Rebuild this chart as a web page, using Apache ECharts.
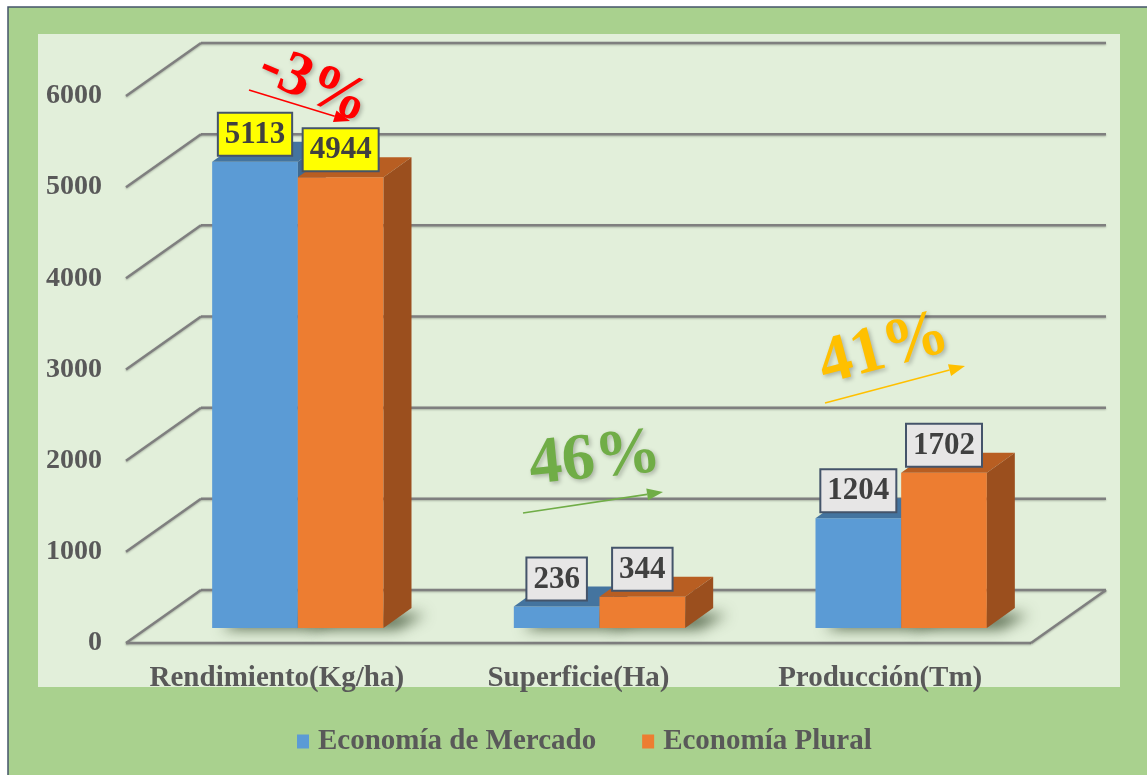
<!DOCTYPE html>
<html>
<head>
<meta charset="utf-8">
<script src="https://cdn.jsdelivr.net/npm/echarts@6/dist/echarts.min.js"></script>
<style>
  html, body { margin: 0; padding: 0; background: #fff; }
  #chart { width: 1147px; height: 775px; }
</style>
</head>
<body>
<div id="chart"></div>
<script>
var categories = ['Rendimiento(Kg/ha)', 'Superficie(Ha)', 'Producción(Tm)'];
var mercado = [5113, 236, 1204];
var plural = [4944, 344, 1702];
var seriesNames = ['Economía de Mercado', 'Economía Plural'];
var yTicks = [0, 1000, 2000, 3000, 4000, 5000, 6000];
var changeLabels = ['-3%', '46%', '41%'];

// depth offsets of the fake 3D
var FRONT = [-21, 15];   // floor front edge vs bar front plane
var BACK = [54, -38];    // back wall vs bar front plane
var DX = 28, DY = -20;   // bar depth
var FONT = '"Liberation Serif", "Times New Roman", serif';
var TXT = '#595959';
var FAR = 3000;          // shadow shape drawn off-screen, only its blur is shifted back

var chart = echarts.init(document.getElementById('chart'));

function wallItem(params, api) {
  var v = api.value(0);
  var cs = params.coordSys;
  var y = api.coord([0, v])[1];
  var lineStyle = { stroke: '#7f7f7f', lineWidth: 2.5, shadowBlur: 2, shadowColor: 'rgba(0,0,0,0.25)', shadowOffsetY: 1 };
  var kids = [
    { type: 'line', shape: { x1: cs.x + BACK[0], y1: y + BACK[1], x2: cs.x + cs.width + BACK[0], y2: y + BACK[1] }, style: lineStyle },
    { type: 'line', shape: { x1: cs.x + FRONT[0], y1: y + FRONT[1], x2: cs.x + BACK[0], y2: y + BACK[1] }, style: lineStyle },
    { type: 'text', style: { text: String(v), x: cs.x + FRONT[0] - 24, y: y + FRONT[1], align: 'right', verticalAlign: 'middle', font: 'bold 28px ' + FONT, fill: TXT } }
  ];
  if (v === 0) {
    kids.push({ type: 'line', shape: { x1: cs.x + FRONT[0], y1: y + FRONT[1], x2: cs.x + cs.width + FRONT[0], y2: y + FRONT[1] }, style: lineStyle });
    kids.push({ type: 'line', shape: { x1: cs.x + cs.width + FRONT[0], y1: y + FRONT[1], x2: cs.x + cs.width + BACK[0], y2: y + BACK[1] }, style: lineStyle });
  }
  return { type: 'group', children: kids };
}

function barItem(side, c) {
  return function (params, api) {
    var cat = api.value(0), v = api.value(1);
    var base = api.coord([cat, 0]);
    var top = api.coord([cat, v]);
    var bw = api.size([1, 0])[0] * 0.284;
    var x0 = side < 0 ? base[0] - bw : base[0];
    var x1 = x0 + bw;
    var yb = base[1], yt = top[1];
    var bg = cat === 0 ? '#ffff00' : '#e7e6e6';
    return {
      type: 'group',
      children: [
        { type: 'polygon', shape: { points: [[x0 + 10 - FAR, yb + 1], [x1 + 14 - FAR, yb + 1], [x1 + DX + 14 - FAR, yb + DY + 6], [x0 + DX - FAR, yb + DY + 6]] },
          style: { fill: '#000', shadowBlur: 14, shadowColor: 'rgba(40,60,30,0.75)', shadowOffsetX: FAR } },
        { type: 'rect', shape: { x: x0, y: yt, width: bw, height: yb - yt }, style: { fill: c[0] } },
        { type: 'polygon', shape: { points: [[x0, yt], [x1, yt], [x1 + DX, yt + DY], [x0 + DX, yt + DY]] }, style: { fill: c[1] } },
        { type: 'polygon', shape: { points: [[x1, yt], [x1 + DX, yt + DY], [x1 + DX, yb + DY], [x1, yb]] }, style: { fill: c[2] } },
        { type: 'text', z2: 100, style: {
            text: String(v), x: (x0 + x1) / 2, y: yt - 7, align: 'center', verticalAlign: 'bottom',
            font: 'bold 31px ' + FONT, fill: '#404040', lineHeight: 32,
            backgroundColor: bg, borderColor: '#44546a', borderWidth: 2, padding: [5, 6, 4, 6] } }
      ]
    };
  };
}

function arrow(x1, y1, x2, y2, color) {
  var a = Math.atan2(y2 - y1, x2 - x1), L = 16, W = 6;
  var bx = x2 - L * Math.cos(a), by = y2 - L * Math.sin(a);
  return [
    { type: 'line', z: 10, shape: { x1: x1, y1: y1, x2: bx, y2: by }, style: { stroke: color, lineWidth: 1.6 } },
    { type: 'polygon', z: 10, shape: { points: [[x2, y2], [bx - W * Math.sin(a), by + W * Math.cos(a)], [bx + W * Math.sin(a), by - W * Math.cos(a)]] }, style: { fill: color } }
  ];
}

var shadowText = { textShadowBlur: 4, textShadowColor: 'rgba(0,0,0,0.25)', textShadowOffsetX: 2, textShadowOffsetY: 2 };
function annot(x, y, rot, text, size, color) {
  return { type: 'text', z: 10, x: x, y: y, rotation: rot,
    style: Object.assign({ text: text, align: 'center', verticalAlign: 'middle', font: 'bold ' + size + 'px ' + FONT, fill: color }, shadowText) };
}

var graphics = [
  { type: 'rect', z: 0, shape: { x: 8, y: 7, width: 1160, height: 790 }, style: { fill: '#a9d18e', stroke: '#44546a', lineWidth: 1.5 } },
  { type: 'rect', z: 0, shape: { x: 38, y: 34, width: 1082, height: 653 }, style: { fill: '#e2efda' } },
  annot(314, 86, -0.4, changeLabels[0], 62, '#ff0000'),
  annot(595, 460, 0.1, changeLabels[1], 66, '#70ad47'),
  annot(884, 350, 0.26, changeLabels[2], 66, '#ffc000')
].concat(arrow(249, 90, 350, 121, '#ff0000'))
 .concat(arrow(523, 513, 663, 492, '#70ad47'))
 .concat(arrow(825, 403, 965, 366, '#ffc000'));

var option = {
  backgroundColor: '#ffffff',
  animation: false,
  graphic: graphics,
  grid: { left: 147, right: 95, top: 81, bottom: 147 },
  legend: {
    bottom: 14,
    left: 292,
    icon: 'rect',
    itemWidth: 12,
    itemHeight: 14,
    itemGap: 46,
    data: seriesNames,
    textStyle: { fontFamily: FONT, fontWeight: 'bold', fontSize: 29, color: TXT, padding: [0, 0, 0, 4] }
  },
  xAxis: {
    type: 'category',
    data: categories,
    axisLine: { show: false },
    axisTick: { show: false },
    axisLabel: { interval: 0, margin: 36, padding: [0, 42, 0, 0], fontFamily: FONT, fontWeight: 'bold', fontSize: 29, color: TXT }
  },
  yAxis: {
    type: 'value', min: 0, max: 6000, interval: 1000,
    axisLine: { show: false }, axisTick: { show: false }, axisLabel: { show: false }, splitLine: { show: false }
  },
  series: [
    { type: 'custom', name: 'walls', silent: true, renderItem: wallItem, data: yTicks.map(function (v) { return [v]; }), encode: { y: 0 } },
    { type: 'custom', name: seriesNames[0], itemStyle: { color: '#5b9bd5' }, renderItem: barItem(-1, ['#5b9bd5', '#44749f', '#3e6a93']),
      data: mercado.map(function (v, i) { return [i, v]; }), encode: { x: 0, y: 1 } },
    { type: 'custom', name: seriesNames[1], itemStyle: { color: '#ed7d31' }, renderItem: barItem(1, ['#ed7d31', '#b85e22', '#9b4f1e']),
      data: plural.map(function (v, i) { return [i, v]; }), encode: { x: 0, y: 1 } }
  ]
};

chart.setOption(option);
</script>
</body>
</html>
